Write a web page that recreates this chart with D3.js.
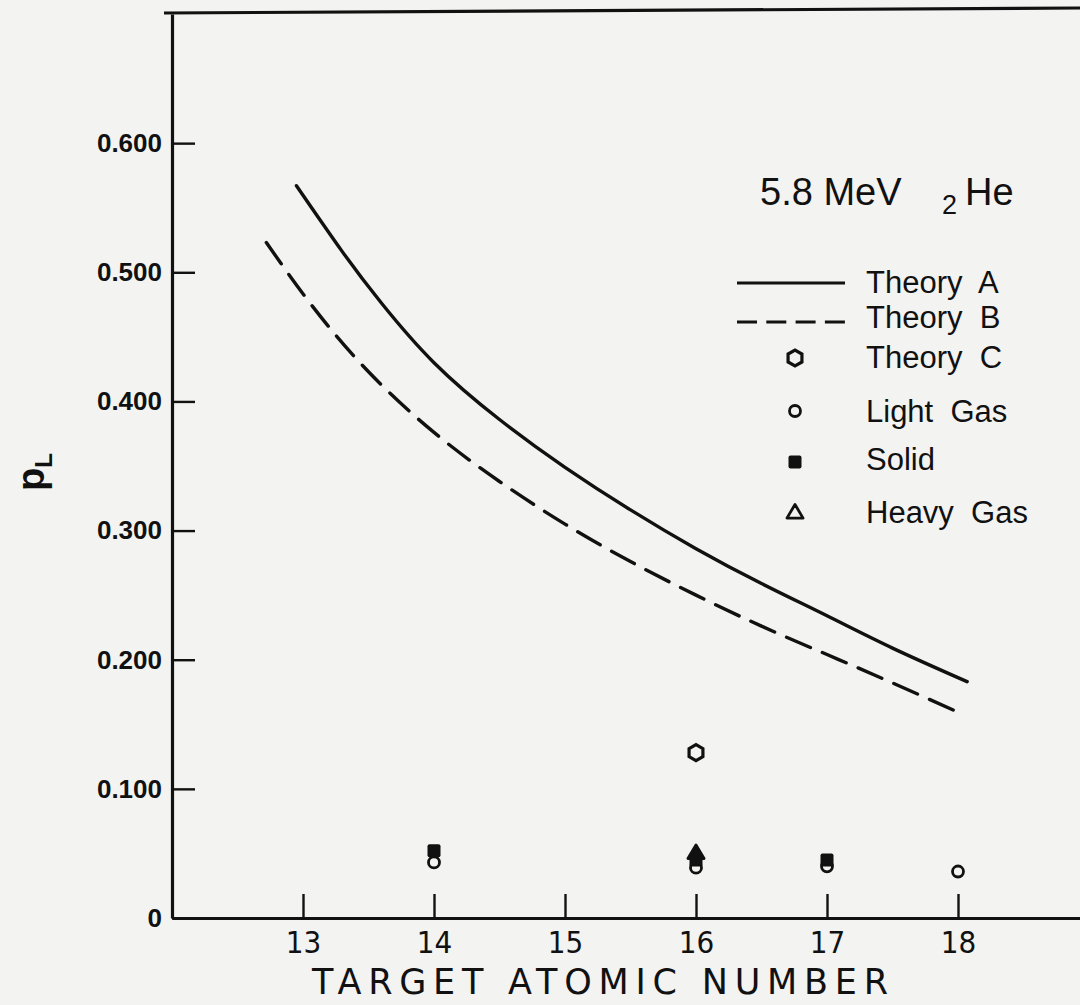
<!DOCTYPE html>
<html>
<head>
<meta charset="utf-8">
<script src="https://cdn.jsdelivr.net/npm/d3@7"></script>
<style>
  html, body { margin: 0; padding: 0; background: #f3f3f1; }
  svg { display: block; }
  text { font-family: "Liberation Sans", "DejaVu Sans", sans-serif; fill: #111; }
</style>
</head>
<body>
<svg id="chart" width="1080" height="1005"></svg>
<script>
// Theory A (solid curve): target atomic number vs P_L
const theoryAZ = [12.95, 13.3, 13.6, 14.0, 14.5, 15.0, 15.5, 16.0, 16.5, 17.0, 17.5, 18.07];
const theoryAP = [0.567, 0.516, 0.476, 0.430, 0.386, 0.349, 0.316, 0.286, 0.259, 0.234, 0.209, 0.183];

// Theory B (dashed curve)
const theoryBZ = [12.72, 13.07, 13.5, 14.0, 14.5, 15.0, 15.5, 16.0, 16.5, 17.0, 17.5, 18.03];
const theoryBP = [0.523, 0.474, 0.423, 0.376, 0.338, 0.305, 0.276, 0.250, 0.226, 0.204, 0.182, 0.158];

// Theory C (hexagon)
const theoryCZ = [16];
const theoryCP = [0.128];

// Measurements
const lightGasZ = [14, 16, 17, 18];
const lightGasP = [0.043, 0.039, 0.040, 0.036];
const solidZ = [14, 16, 17];
const solidP = [0.052, 0.045, 0.045];
const heavyGasZ = [16];
const heavyGasP = [0.050];

const xTicks = [13, 14, 15, 16, 17, 18];
const yTicks = [0, 0.1, 0.2, 0.3, 0.4, 0.5, 0.6];
const yTickLabels = ["0", "0.100", "0.200", "0.300", "0.400", "0.500", "0.600"];

const legendItems = ["Theory  A", "Theory  B", "Theory  C", "Light  Gas", "Solid", "Heavy  Gas"];

const svg = d3.select("#chart");
const x = d3.scaleLinear().domain([12, 19]).range([172, 1089]);
const y = d3.scaleLinear().domain([0, 0.7]).range([918, 14]);

const ink = "#111";
const condensed = "'DejaVu Sans Condensed', 'DejaVu Sans', sans-serif";

// frame: top edge
svg.append("line")
  .attr("x1", 164).attr("x2", 1080)
  .attr("y1", y(0.7) - 1).attr("y2", y(0.7) - 6)
  .attr("stroke", ink).attr("stroke-width", 3.2);

// axes
const yAxis = d3.axisLeft(y)
  .tickValues(yTicks)
  .tickFormat((d, i) => yTickLabels[i])
  .tickSizeInner(-23).tickSizeOuter(0).tickPadding(10);
const gy = svg.append("g").attr("transform", `translate(${x(12)},0)`).call(yAxis);
gy.select(".domain").attr("stroke", ink).attr("stroke-width", 3.2);
gy.selectAll(".tick line").attr("stroke", ink).attr("stroke-width", 2.4);
gy.selectAll(".tick text")
  .attr("font-size", 26).attr("font-weight", "bold").attr("fill", ink)
  .style("font-family", "'Liberation Sans', sans-serif");

const xAxis = d3.axisBottom(x)
  .tickValues(xTicks)
  .tickFormat(d3.format("d"))
  .tickSizeInner(-24).tickSizeOuter(0).tickPadding(13);
const gx = svg.append("g").attr("transform", `translate(0,${y(0)})`).call(xAxis);
gx.select(".domain").attr("stroke", ink).attr("stroke-width", 3.2);
gx.selectAll(".tick line").attr("stroke", ink).attr("stroke-width", 2.4);
gx.selectAll(".tick text")
  .attr("font-size", 31).attr("fill", ink)
  .style("font-family", condensed);

// axis titles
svg.append("text")
  .attr("x", 312).attr("y", 994)
  .attr("font-size", 35)
  .attr("textLength", 576).attr("lengthAdjust", "spacing")
  .style("font-family", "'DejaVu Sans', sans-serif")
  .text("TARGET ATOMIC NUMBER");

const yl = svg.append("text")
  .attr("transform", "translate(44,472) rotate(-90)")
  .attr("text-anchor", "middle")
  .attr("font-size", 38)
  .attr("font-weight", "bold");
yl.append("tspan").text("p");
yl.append("tspan").attr("font-size", 24).attr("dy", 8).text("L");

// curves
const line = d3.line().x(d => x(d[0])).y(d => y(d[1])).curve(d3.curveNatural);
const ptsA = theoryAZ.map((z, i) => [z, theoryAP[i]]);
const ptsB = theoryBZ.map((z, i) => [z, theoryBP[i]]);

svg.append("path").datum(ptsA)
  .attr("d", line).attr("fill", "none")
  .attr("stroke", ink).attr("stroke-width", 3.4).attr("stroke-linecap", "round");
svg.append("path").datum(ptsB)
  .attr("d", line).attr("fill", "none")
  .attr("stroke", ink).attr("stroke-width", 3.4).attr("stroke-linecap", "round")
  .attr("stroke-dasharray", "26,13");

// marker shapes
const hexPath = (cx, cy, r) => {
  const pts = d3.range(6).map(k => {
    const a = Math.PI / 6 + k * Math.PI / 3;
    return [cx + r * Math.cos(a), cy + r * Math.sin(a)];
  });
  return "M" + pts.map(p => p.join(",")).join("L") + "Z";
};
const triPath = (cx, cy, r) => {
  const pts = [[cx, cy - r], [cx + r * 0.95, cy + r * 0.6], [cx - r * 0.95, cy + r * 0.6]];
  return "M" + pts.map(p => p.join(",")).join("L") + "Z";
};

function drawHex(g, cx, cy) {
  g.append("path").attr("d", hexPath(cx, cy, 8))
    .attr("fill", "none").attr("stroke", ink).attr("stroke-width", 3.2);
}
function drawCircle(g, cx, cy) {
  g.append("circle").attr("cx", cx).attr("cy", cy).attr("r", 5.5)
    .attr("fill", "none").attr("stroke", ink).attr("stroke-width", 2.8);
}
function drawSquare(g, cx, cy) {
  g.append("rect").attr("x", cx - 6.5).attr("y", cy - 6.5).attr("width", 13).attr("height", 13)
    .attr("rx", 2).attr("fill", ink);
}
function drawTri(g, cx, cy, filled) {
  g.append("path").attr("d", triPath(cx, cy, 8.5))
    .attr("fill", filled ? ink : "none").attr("stroke", ink)
    .attr("stroke-width", 2.8).attr("stroke-linejoin", "round");
}

const marks = svg.append("g");
lightGasZ.forEach((z, i) => drawCircle(marks, x(z), y(lightGasP[i])));
solidZ.forEach((z, i) => drawSquare(marks, x(z), y(solidP[i])));
heavyGasZ.forEach((z, i) => drawTri(marks, x(z), y(heavyGasP[i]), true));
theoryCZ.forEach((z, i) => drawHex(marks, x(z), y(theoryCP[i])));

// heading
const head = svg.append("g");
head.append("text").attr("x", 760).attr("y", 205).attr("font-size", 38).text("5.8 MeV");
head.append("text").attr("x", 942).attr("y", 214).attr("font-size", 27).text("2");
head.append("text").attr("x", 965).attr("y", 205).attr("font-size", 38).text("He");

// legend
const leg = svg.append("g");
const legBase = [293, 328, 368, 422, 470, 523];
const legMarkY = [283, 322, 358, 411, 462, 513];
leg.append("line").attr("x1", 737).attr("x2", 845).attr("y1", legMarkY[0]).attr("y2", legMarkY[0])
  .attr("stroke", ink).attr("stroke-width", 3.2);
leg.append("line").attr("x1", 737).attr("x2", 845).attr("y1", legMarkY[1]).attr("y2", legMarkY[1])
  .attr("stroke", ink).attr("stroke-width", 3.2).attr("stroke-dasharray", "20,9.3");
drawHex(leg, 795, legMarkY[2]);
drawCircle(leg, 795, legMarkY[3]);
drawSquare(leg, 795, legMarkY[4]);
drawTri(leg, 795, legMarkY[5], false);

legendItems.forEach((t, i) => {
  leg.append("text").attr("x", 866).attr("y", legBase[i])
    .attr("font-size", 31)
    .style("white-space", "pre")
    .text(t);
});
</script>
</body>
</html>
